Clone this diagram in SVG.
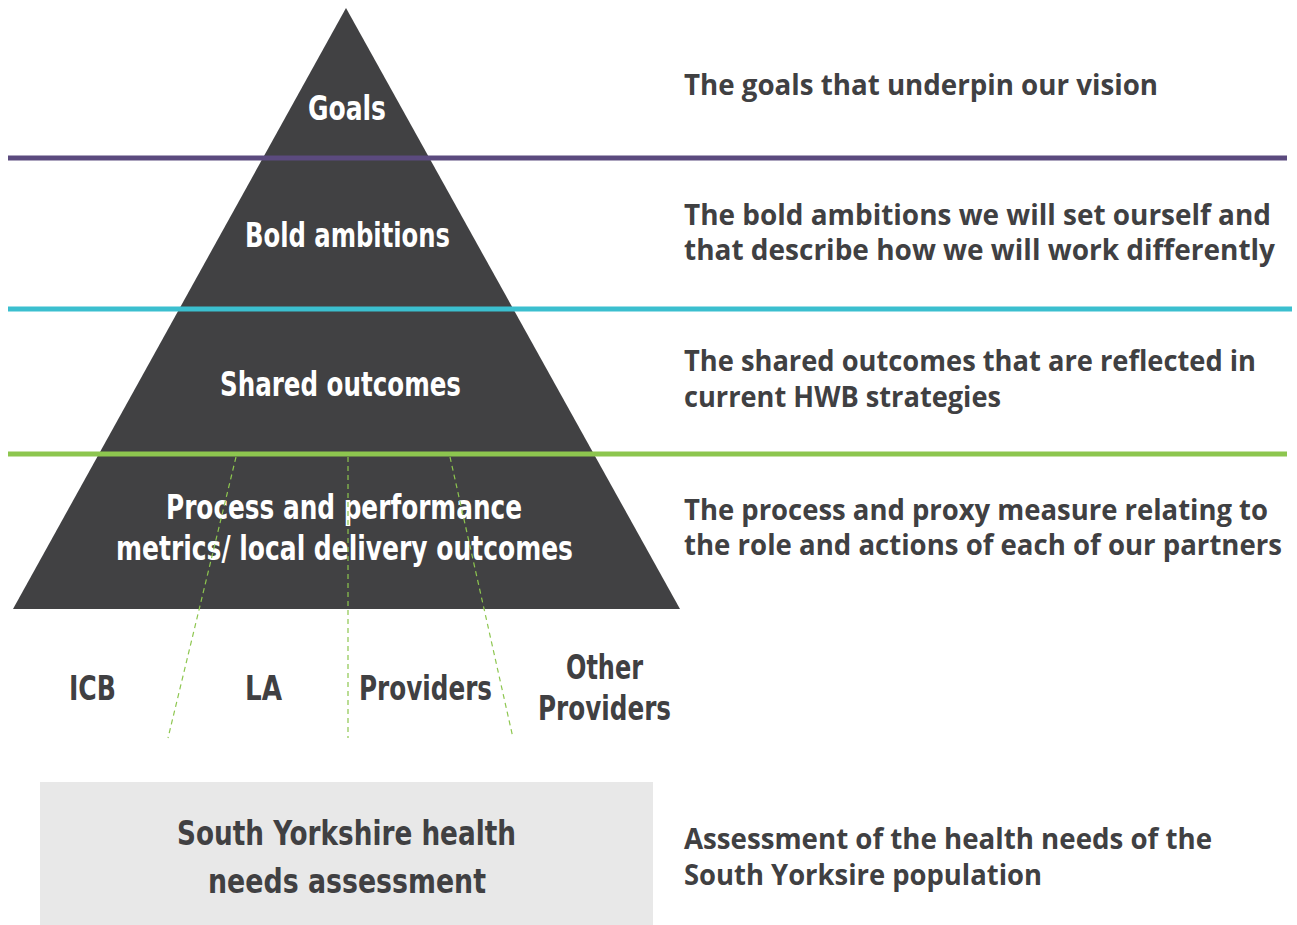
<svg xmlns="http://www.w3.org/2000/svg" width="1297" height="925" viewBox="0 0 1297 925">
<style>
.cond{font-family:"DejaVu Sans Condensed","DejaVu Sans",sans-serif;font-stretch:condensed;font-weight:bold;font-size:34px;text-anchor:middle}
.w{fill:#ffffff}
.d{fill:#404042}
.desc{font-family:"Open Sans","Liberation Sans",sans-serif;font-weight:bold;font-size:28px;fill:#404042}
.dash{stroke:#8dc64f;stroke-width:1.2;stroke-dasharray:5 4;fill:none}
</style>
<rect width="1297" height="925" fill="#ffffff"/>
<g id="pyramid">
<polygon points="346,8 680,609 13,609" fill="#414143"/>
<text class="cond w" x="347" y="120" textLength="78" lengthAdjust="spacingAndGlyphs">Goals</text>
<text class="cond w" x="347.5" y="247" textLength="205" lengthAdjust="spacingAndGlyphs">Bold ambitions</text>
<text class="cond w" x="340.5" y="396" textLength="241" lengthAdjust="spacingAndGlyphs">Shared outcomes</text>
<text class="cond w" x="344" y="519" textLength="356" lengthAdjust="spacingAndGlyphs">Process and performance</text>
<text class="cond w" x="344.5" y="560" textLength="457" lengthAdjust="spacingAndGlyphs">metrics/ local delivery outcomes</text>
</g>
<g id="dividers">
<line x1="8" y1="158" x2="1287" y2="158" stroke="#5b4a7e" stroke-width="5"/>
<line x1="8" y1="309" x2="1292" y2="309" stroke="#3bbfcf" stroke-width="5"/>
<line x1="8" y1="454" x2="1287" y2="454" stroke="#8dc64f" stroke-width="5"/>
</g>
<g id="connectors">
<line class="dash" x1="236" y1="457" x2="168" y2="738"/>
<line class="dash" x1="348" y1="457" x2="348" y2="738"/>
<line class="dash" x1="450" y1="457" x2="513" y2="738"/>
</g>
<g id="partners">
<text class="cond d" x="92.5" y="700" textLength="47" lengthAdjust="spacingAndGlyphs">ICB</text>
<text class="cond d" x="263.5" y="700" textLength="37" lengthAdjust="spacingAndGlyphs">LA</text>
<text class="cond d" x="425.5" y="700" textLength="133" lengthAdjust="spacingAndGlyphs">Providers</text>
<text class="cond d" x="604.5" y="679" textLength="77" lengthAdjust="spacingAndGlyphs">Other</text>
<text class="cond d" x="604.5" y="720" textLength="133" lengthAdjust="spacingAndGlyphs">Providers</text>
</g>
<g id="needs-assessment">
<rect x="40" y="782" width="613" height="143" fill="#e8e8e8"/>
<text class="cond d" x="346.5" y="845" textLength="339" lengthAdjust="spacingAndGlyphs">South Yorkshire health</text>
<text class="cond d" x="347" y="893" textLength="278" lengthAdjust="spacingAndGlyphs">needs assessment</text>
</g>
<g id="descriptions">
<text class="desc" x="684" y="95" textLength="474" lengthAdjust="spacingAndGlyphs">The goals that underpin our vision</text>
<text class="desc" x="684" y="225" textLength="587" lengthAdjust="spacingAndGlyphs">The bold ambitions we will set ourself and</text>
<text class="desc" x="684" y="260" textLength="591" lengthAdjust="spacingAndGlyphs">that describe how we will work differently</text>
<text class="desc" x="684" y="371" textLength="572" lengthAdjust="spacingAndGlyphs">The shared outcomes that are reflected in</text>
<text class="desc" x="684" y="407" textLength="317" lengthAdjust="spacingAndGlyphs">current HWB strategies</text>
<text class="desc" x="684" y="520" textLength="584" lengthAdjust="spacingAndGlyphs">The process and proxy measure relating to</text>
<text class="desc" x="684" y="555" textLength="598" lengthAdjust="spacingAndGlyphs">the role and actions of each of our partners</text>
<text class="desc" x="684" y="849" textLength="528" lengthAdjust="spacingAndGlyphs">Assessment of the health needs of the</text>
<text class="desc" x="684" y="885" textLength="358" lengthAdjust="spacingAndGlyphs">South Yorksire population</text>
</g>
</svg>
